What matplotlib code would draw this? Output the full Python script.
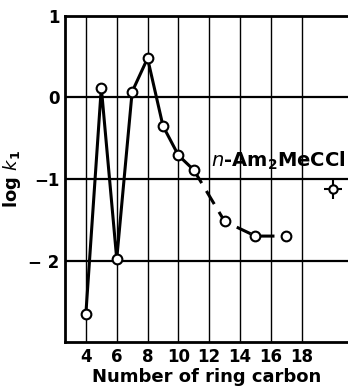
import matplotlib
matplotlib.use('Agg')
import matplotlib.pyplot as plt

# ── Data ──────────────────────────────────────────────────────
ring_solid = [4, 5, 6, 7, 8, 9, 10, 11]
logk_solid = [-2.65, 0.12, -1.98, 0.07, 0.48, -0.35, -0.71, -0.89]
ring_dash  = [11, 13, 15, 17]
logk_dash  = [-0.89, -1.52, -1.70, -1.70]
ref_x, ref_y = [20], [-1.12]       # n-Am2MeCCl reference point
xticks = [4, 6, 8, 10, 12, 14, 16, 18]
yticks = [1, 0, -1, -2]
ytick_labels = ['1', '0', '\u22121', '\u2212 2']

plt.rcParams['font.family'] = 'DejaVu Sans'
plt.rcParams['mathtext.default'] = 'bf'

fig = plt.figure(figsize=(3.48, 3.87), dpi=100)
ax = fig.add_axes([0.187, 0.116, 0.813, 0.843])

# ── Grid ──────────────────────────────────────────────────────
for xv in xticks:
    ax.axvline(xv, color='black', lw=1.0, zorder=1)
for yv in [0, -1, -2]:
    ax.axhline(yv, color='black', lw=1.6, zorder=1)

# ── Series ────────────────────────────────────────────────────
ax.plot(ring_solid, logk_solid, color='black', lw=2.2, zorder=3)
ax.plot(ring_dash, logk_dash, color='black', lw=2.2, zorder=3,
        dashes=(5, 3))
ax.plot(ring_solid + ring_dash[1:], logk_solid + logk_dash[1:], 'o',
        ms=7, mfc='white', mec='black', mew=1.5, zorder=4)
ax.errorbar(ref_x, ref_y, xerr=0.58, yerr=0.12, fmt='o', ms=6,
            mfc='white', mec='black', mew=1.5, ecolor='black',
            elinewidth=1.5, capsize=0, zorder=4)

ax.text(12.1, -0.78, r'$\mathit{n}$-Am$_2$MeCCl', fontsize=14,
        fontweight='bold', ha='left', va='center')

ax.set_xlim(2.65, 21)
ax.set_ylim(-3.0, 1.0)
ax.set_xticks(xticks)
ax.set_xticklabels([str(v) for v in xticks], fontsize=12,
                   fontweight='bold')
ax.set_yticks(yticks)
ax.set_yticklabels(ytick_labels, fontsize=12, fontweight='bold')
ax.tick_params(length=0, pad=4)
ax.set_xlabel('Number of ring carbon', fontsize=13, fontweight='bold',
              labelpad=2)
ax.set_ylabel(r'log $\mathit{k}_1$', fontsize=13, fontweight='bold',
              labelpad=4)

for s in ['left', 'bottom', 'top']:
    ax.spines[s].set_linewidth(2)
ax.spines['right'].set_visible(False)

fig.savefig('out.png', dpi=100)
